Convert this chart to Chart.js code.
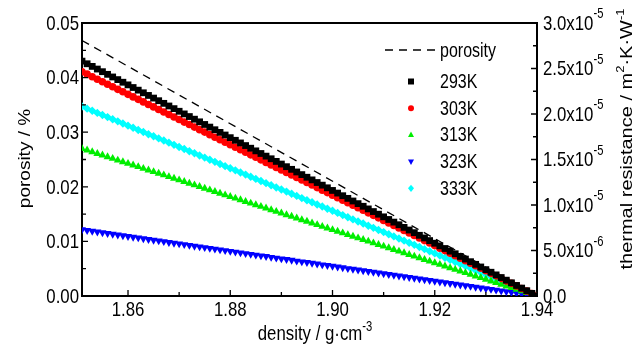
<!DOCTYPE html>
<html>
<head>
<meta charset="utf-8">
<script src="https://cdn.jsdelivr.net/npm/chart.js@4.4.1/dist/chart.umd.min.js"></script>
<style>
  html, body { margin: 0; padding: 0; background: #fff; }
  canvas { display: block; }
</style>
</head>
<body>
<canvas id="chart" width="634" height="344"></canvas>
<script>
// density (g/cm3)
const density = [
  1.851, 1.852, 1.853, 1.854, 1.855, 1.856, 1.857, 1.858, 1.859, 1.860,
  1.861, 1.862, 1.863, 1.864, 1.865, 1.866, 1.867, 1.868, 1.869, 1.870,
  1.871, 1.872, 1.873, 1.874, 1.875, 1.876, 1.877, 1.878, 1.879, 1.880,
  1.881, 1.882, 1.883, 1.884, 1.885, 1.886, 1.887, 1.888, 1.889, 1.890,
  1.891, 1.892, 1.893, 1.894, 1.895, 1.896, 1.897, 1.898, 1.899, 1.900,
  1.901, 1.902, 1.903, 1.904, 1.905, 1.906, 1.907, 1.908, 1.909, 1.910,
  1.911, 1.912, 1.913, 1.914, 1.915, 1.916, 1.917, 1.918, 1.919, 1.920,
  1.921, 1.922, 1.923, 1.924, 1.925, 1.926, 1.927, 1.928, 1.929, 1.930,
  1.931, 1.932, 1.933, 1.934, 1.935, 1.936, 1.937, 1.938, 1.939, 1.940
];

// porosity line (dashed), left axis
const porosityX = [1.851, 1.940];
const porosity = [0.0468, 0];

// thermal resistance, in units of 1e-5 m2·K/W, right axis
const r293 = [
  2.581, 2.552, 2.523, 2.494, 2.465, 2.436, 2.407, 2.378, 2.349, 2.320,
  2.291, 2.262, 2.233, 2.204, 2.175, 2.146, 2.117, 2.088, 2.059, 2.030,
  2.001, 1.972, 1.943, 1.914, 1.885, 1.856, 1.827, 1.798, 1.769, 1.740,
  1.711, 1.682, 1.653, 1.624, 1.595, 1.566, 1.537, 1.508, 1.479, 1.450,
  1.421, 1.392, 1.363, 1.334, 1.305, 1.276, 1.247, 1.218, 1.189, 1.160,
  1.131, 1.102, 1.073, 1.044, 1.015, 0.986, 0.957, 0.928, 0.899, 0.870,
  0.841, 0.812, 0.783, 0.754, 0.725, 0.696, 0.667, 0.638, 0.609, 0.580,
  0.551, 0.522, 0.493, 0.464, 0.435, 0.406, 0.377, 0.348, 0.319, 0.290,
  0.261, 0.232, 0.203, 0.174, 0.145, 0.116, 0.087, 0.058, 0.029, 0
];
const r303 = [
  2.465, 2.438, 2.410, 2.382, 2.355, 2.327, 2.299, 2.271, 2.244, 2.216,
  2.188, 2.161, 2.133, 2.105, 2.078, 2.050, 2.022, 1.994, 1.967, 1.939,
  1.911, 1.884, 1.856, 1.828, 1.801, 1.773, 1.745, 1.717, 1.690, 1.662,
  1.634, 1.607, 1.579, 1.551, 1.524, 1.496, 1.468, 1.440, 1.413, 1.385,
  1.357, 1.330, 1.302, 1.274, 1.247, 1.219, 1.191, 1.163, 1.136, 1.108,
  1.080, 1.053, 1.025, 0.997, 0.970, 0.942, 0.914, 0.886, 0.859, 0.831,
  0.803, 0.776, 0.748, 0.720, 0.693, 0.665, 0.637, 0.609, 0.582, 0.554,
  0.526, 0.499, 0.471, 0.443, 0.416, 0.388, 0.360, 0.332, 0.305, 0.277,
  0.249, 0.222, 0.194, 0.166, 0.139, 0.111, 0.083, 0.055, 0.028, 0
];
const r313 = [
  1.620, 1.602, 1.583, 1.565, 1.547, 1.529, 1.511, 1.492, 1.474, 1.456,
  1.438, 1.420, 1.401, 1.383, 1.365, 1.347, 1.329, 1.310, 1.292, 1.274,
  1.256, 1.238, 1.219, 1.201, 1.183, 1.165, 1.147, 1.128, 1.110, 1.092,
  1.074, 1.056, 1.037, 1.019, 1.001, 0.983, 0.965, 0.946, 0.928, 0.910,
  0.892, 0.874, 0.855, 0.837, 0.819, 0.801, 0.783, 0.764, 0.746, 0.728,
  0.710, 0.692, 0.673, 0.655, 0.637, 0.619, 0.601, 0.582, 0.564, 0.546,
  0.528, 0.510, 0.491, 0.473, 0.455, 0.437, 0.419, 0.400, 0.382, 0.364,
  0.346, 0.328, 0.309, 0.291, 0.273, 0.255, 0.237, 0.218, 0.200, 0.182,
  0.164, 0.146, 0.127, 0.109, 0.091, 0.073, 0.055, 0.036, 0.018, 0
];
const r323 = [
  0.730, 0.722, 0.713, 0.705, 0.697, 0.689, 0.681, 0.672, 0.664, 0.656,
  0.648, 0.640, 0.631, 0.623, 0.615, 0.607, 0.599, 0.590, 0.582, 0.574,
  0.566, 0.558, 0.549, 0.541, 0.533, 0.525, 0.517, 0.508, 0.500, 0.492,
  0.484, 0.476, 0.467, 0.459, 0.451, 0.443, 0.435, 0.426, 0.418, 0.410,
  0.402, 0.394, 0.385, 0.377, 0.369, 0.361, 0.353, 0.344, 0.336, 0.328,
  0.320, 0.312, 0.303, 0.295, 0.287, 0.279, 0.271, 0.262, 0.254, 0.246,
  0.238, 0.230, 0.221, 0.213, 0.205, 0.197, 0.189, 0.180, 0.172, 0.164,
  0.156, 0.148, 0.139, 0.131, 0.123, 0.115, 0.107, 0.098, 0.090, 0.082,
  0.074, 0.066, 0.057, 0.049, 0.041, 0.033, 0.025, 0.016, 0.008, 0
];
const r333 = [
  2.083, 2.059, 2.036, 2.012, 1.989, 1.966, 1.942, 1.919, 1.895, 1.872,
  1.849, 1.825, 1.802, 1.778, 1.755, 1.732, 1.708, 1.685, 1.661, 1.638,
  1.615, 1.591, 1.568, 1.544, 1.521, 1.498, 1.474, 1.451, 1.427, 1.404,
  1.381, 1.357, 1.334, 1.310, 1.287, 1.264, 1.240, 1.217, 1.193, 1.170,
  1.147, 1.123, 1.100, 1.076, 1.053, 1.030, 1.006, 0.983, 0.959, 0.936,
  0.913, 0.889, 0.866, 0.842, 0.819, 0.796, 0.772, 0.749, 0.725, 0.702,
  0.679, 0.655, 0.632, 0.608, 0.585, 0.562, 0.538, 0.515, 0.491, 0.468,
  0.445, 0.421, 0.398, 0.374, 0.351, 0.328, 0.304, 0.281, 0.257, 0.234,
  0.211, 0.187, 0.164, 0.140, 0.117, 0.094, 0.070, 0.047, 0.023, 0
];

const seriesNames = ['293K', '303K', '313K', '323K', '333K'];

// tick values / labels
const densityTicks = [1.86, 1.88, 1.90, 1.92, 1.94];
const densityLabels = ['1.86', '1.88', '1.90', '1.92', '1.94'];
const porosityTicks = [0, 0.01, 0.02, 0.03, 0.04, 0.05];
const porosityLabels = ['0.00', '0.01', '0.02', '0.03', '0.04', '0.05'];
const resistTicks = [0, 0.5, 1.0, 1.5, 2.0, 2.5, 3.0];
const resistLabels = [['0.0', ''], ['5.0x10', '-6'], ['1.0x10', '-5'], ['1.5x10', '-5'],
                      ['2.0x10', '-5'], ['2.5x10', '-5'], ['3.0x10', '-5']];

const FONT = '"Liberation Sans", Arial, sans-serif';
const SX = 0.8;   // the original lettering is narrow

function pts(xs, ys) {
  return xs.map((x, i) => ({ x: x, y: ys[i] }));
}

// marker styles (shared by chart and legend)
const markers = [
  { color: '#000000', style: 'rect', radius: 4.8, rotation: 0 },
  { color: '#ff0000', style: 'circle', radius: 3.8, rotation: 0 },
  { color: '#00ee00', style: 'triangle', radius: 4.6, rotation: 0 },
  { color: '#0000ff', style: 'triangle', radius: 4.6, rotation: 180 },
  { color: '#00ffff', style: 'rectRot', radius: 4.2, rotation: 0 }
];
const resistSeries = [r293, r303, r313, r323, r333];

const datasets = [{
  label: 'porosity',
  data: pts(porosityX, porosity),
  yAxisID: 'y',
  showLine: true,
  borderColor: '#000',
  borderWidth: 1.3,
  borderDash: [8, 6],
  pointRadius: 0,
  fill: false,
  clip: 0
}];
resistSeries.forEach((s, i) => {
  const m = markers[i];
  datasets.push({
    label: seriesNames[i],
    data: pts(density, s),
    yAxisID: 'yR',
    showLine: false,
    pointStyle: m.style,
    pointRadius: m.radius,
    pointRotation: m.rotation,
    pointBackgroundColor: m.color,
    pointBorderColor: m.color,
    pointBorderWidth: 0,
    clip: 0
  });
});

// text with superscript parts, drawn narrow; parts = [[text, isSup], ...]
function richWidth(ctx, parts, size) {
  let w = 0;
  parts.forEach(p => {
    ctx.font = (p[1] ? Math.round(size * 0.66) : size) + 'px ' + FONT;
    w += ctx.measureText(p[0]).width;
  });
  return w;
}
function drawRich(ctx, parts, x, y, size, align, squeeze) {
  const w = richWidth(ctx, parts, size);
  ctx.save();
  ctx.translate(x, y);
  ctx.scale(squeeze, 1);
  let cx = align === 'center' ? -w / 2 : align === 'right' ? -w : 0;
  ctx.textAlign = 'left';
  parts.forEach(p => {
    const s = p[1] ? Math.round(size * 0.66) : size;
    ctx.font = s + 'px ' + FONT;
    ctx.fillText(p[0], cx, p[1] ? -size * 0.45 : 0);
    cx += ctx.measureText(p[0]).width;
  });
  ctx.restore();
}

function marker(ctx, m, x, y, r) {
  ctx.fillStyle = m.color;
  ctx.beginPath();
  if (m.style === 'rect') {
    ctx.rect(x - r, y - r, 2 * r, 2 * r);
  } else if (m.style === 'circle') {
    ctx.arc(x, y, r, 0, Math.PI * 2);
  } else if (m.style === 'triangle' && m.rotation === 0) {
    ctx.moveTo(x, y - r * 1.1); ctx.lineTo(x + r, y + r * 0.7); ctx.lineTo(x - r, y + r * 0.7);
  } else if (m.style === 'triangle') {
    ctx.moveTo(x, y + r * 1.1); ctx.lineTo(x + r, y - r * 0.7); ctx.lineTo(x - r, y - r * 0.7);
  } else {
    ctx.moveTo(x, y - r * 1.2); ctx.lineTo(x + r, y); ctx.lineTo(x, y + r * 1.2); ctx.lineTo(x - r, y);
  }
  ctx.closePath();
  ctx.fill();
}

function midpoints(vals) {
  const out = [];
  for (let i = 0; i < vals.length - 1; i++) out.push((vals[i] + vals[i + 1]) / 2);
  return out;
}

const decorPlugin = {
  id: 'decor',
  afterDraw(chart) {
    const ctx = chart.ctx;
    const a = chart.chartArea;
    const sx = chart.scales.x, sy = chart.scales.y, sr = chart.scales.yR;
    ctx.save();
    ctx.strokeStyle = '#000';
    ctx.fillStyle = '#000';

    // frame top line
    ctx.lineWidth = 2;
    ctx.beginPath();
    ctx.moveTo(a.left - 1, a.top); ctx.lineTo(a.right + 1, a.top);
    ctx.stroke();

    // inward ticks
    ctx.lineWidth = 1.3;
    ctx.beginPath();
    densityTicks.forEach(v => { const p = sx.getPixelForValue(v); ctx.moveTo(p, a.bottom); ctx.lineTo(p, a.bottom - 6); });
    midpoints(densityTicks).forEach(v => { const p = sx.getPixelForValue(v); ctx.moveTo(p, a.bottom); ctx.lineTo(p, a.bottom - 4); });
    porosityTicks.forEach(v => { const p = sy.getPixelForValue(v); ctx.moveTo(a.left, p); ctx.lineTo(a.left + 6, p); });
    midpoints(porosityTicks).forEach(v => { const p = sy.getPixelForValue(v); ctx.moveTo(a.left, p); ctx.lineTo(a.left + 4, p); });
    resistTicks.forEach(v => { const p = sr.getPixelForValue(v); ctx.moveTo(a.right, p); ctx.lineTo(a.right - 6, p); });
    midpoints(resistTicks).forEach(v => { const p = sr.getPixelForValue(v); ctx.moveTo(a.right, p); ctx.lineTo(a.right - 4, p); });
    ctx.stroke();

    // tick labels
    ctx.textBaseline = 'middle';
    porosityTicks.forEach((v, i) => {
      drawRich(ctx, [[porosityLabels[i], false]], a.left - 3, sy.getPixelForValue(v) + 1, 21, 'right', SX);
    });
    resistTicks.forEach((v, i) => {
      drawRich(ctx, [[resistLabels[i][0], false], [resistLabels[i][1], true]], a.right + 6, sr.getPixelForValue(v) + 1, 21, 'left', SX);
    });
    ctx.textBaseline = 'alphabetic';
    densityTicks.forEach((v, i) => {
      drawRich(ctx, [[densityLabels[i], false]], sx.getPixelForValue(v), 316, 21, 'center', SX);
    });

    // axis titles
    drawRich(ctx, [['density / g\u00b7cm', false], ['-3', true]], 315, 340, 21, 'center', SX);

    ctx.save();
    ctx.translate(30, (a.top + a.bottom) / 2 - 1);
    ctx.rotate(-Math.PI / 2);
    ctx.scale(1, 0.85);
    drawRich(ctx, [['porosity / %', false]], 0, 0, 19, 'center', 1);
    ctx.restore();

    ctx.save();
    ctx.translate(632, 139);
    ctx.rotate(-Math.PI / 2);
    ctx.scale(1, 0.85);
    drawRich(ctx, [['thermal resistance / m', false], ['2', true], ['\u00b7K\u00b7W', false], ['-1', true]], 0, 0, 20, 'center', 1);
    ctx.restore();

    // legend
    ctx.textBaseline = 'middle';
    ctx.lineWidth = 1.3;
    ctx.setLineDash([8, 6]);
    ctx.beginPath();
    ctx.moveTo(385, 50); ctx.lineTo(437, 50);
    ctx.stroke();
    ctx.setLineDash([]);
    ctx.fillStyle = '#000';
    drawRich(ctx, [['porosity', false]], 440, 51, 20, 'left', SX);
    seriesNames.forEach((name, i) => {
      const y = 81.5 + i * 26.7;
      marker(ctx, markers[i], 411, y, 3);
      ctx.fillStyle = '#000';
      drawRich(ctx, [[name, false]], 440, y + 1, 20, 'left', SX);
    });
    ctx.restore();
  }
};

new Chart(document.getElementById('chart'), {
  type: 'scatter',
  data: { datasets: datasets },
  options: {
    responsive: false,
    animation: false,
    layout: { padding: { top: 23, left: 0, right: 0, bottom: 0 } },
    plugins: { legend: { display: false }, tooltip: { enabled: false } },
    scales: {
      x: {
        type: 'linear',
        position: 'bottom',
        min: 1.851,
        max: 1.940,
        afterFit: s => { s.height = 48; },
        grid: { display: false, drawTicks: false },
        border: { display: true, color: '#000', width: 2 },
        ticks: { display: false }
      },
      y: {
        type: 'linear',
        position: 'left',
        min: 0,
        max: 0.05,
        afterFit: s => { s.width = 82; },
        grid: { display: false, drawTicks: false },
        border: { display: true, color: '#000', width: 2 },
        ticks: { display: false }
      },
      yR: {
        type: 'linear',
        position: 'right',
        min: 0,
        max: 3,
        afterFit: s => { s.width = 97; },
        grid: { display: false, drawTicks: false },
        border: { display: true, color: '#000', width: 2 },
        ticks: { display: false }
      }
    }
  },
  plugins: [decorPlugin]
});
</script>
</body>
</html>
